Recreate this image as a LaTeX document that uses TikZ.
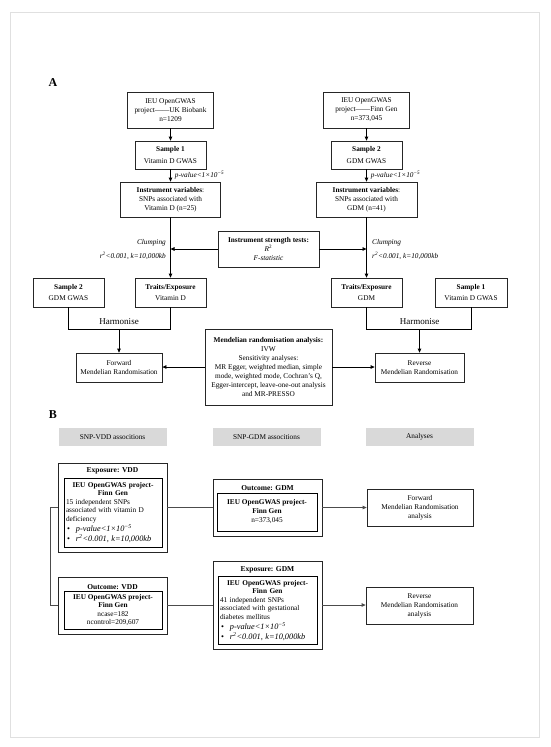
\documentclass[tikz,border=0pt]{standalone}
\usepackage{fontspec}
\setmainfont{Liberation Serif}
\usetikzlibrary{arrows.meta}
\begin{document}
\begin{tikzpicture}[x=1pt,y=-1pt,
  every node/.style={font=\fontsize{7.3}{9}\selectfont, inner sep=1pt},
  box/.style={draw=black!85, line width=0.8pt, align=center},
  inbox/.style={draw=black, line width=1pt, align=center},
  hdr/.style={fill=black!15, minimum width=108, minimum height=18},
  ttl/.style={font=\fontsize{7.5}{9}\selectfont\bfseries},
  big/.style={font=\fontsize{12}{14}\selectfont\bfseries},
  arr/.style={-{Triangle[length=4pt,width=3.6pt]}, line width=0.8pt},
  ln/.style={line width=0.8pt},
  lnb/.style={line width=0.8pt, draw=black!70},
  arrb/.style={arr, draw=black!70},
  lab/.style={font=\fontsize{7.3}{9}\selectfont\itshape, inner sep=0pt},
  harm/.style={font=\fontsize{9}{11}\selectfont},
  tight/.style={font=\fontsize{7.3}{8.4}\selectfont},
]
\newcommand{\bulf}{\fontsize{8.3}{10.2}\selectfont}
\useasboundingbox (0,0) rectangle (550,747);
\draw[black!12, line width=0.8pt] (10,12) rectangle (539,737);

% ---------- Part A ----------
\node[big] (labA) at (53,83) {A};
\node[box, minimum width=86, minimum height=36] (ukb) at (170.5,110) {IEU OpenGWAS\\project——UK Biobank\\n=1209};
\node[box, minimum width=86, minimum height=36] (fin) at (366.5,110) {IEU OpenGWAS\\project——Finn Gen\\n=373,045};
\node[box, minimum width=71, minimum height=28] (s1) at (170.5,155) {\textbf{Sample 1}\\[2.5pt]Vitamin D GWAS};
\node[box, minimum width=71, minimum height=28] (s2) at (366.5,155) {\textbf{Sample 2}\\[2.5pt]GDM GWAS};
\node[box, minimum width=100, minimum height=35] (iv1) at (170.5,199.5) {\textbf{Instrument variables}:\\SNPs associated with\\Vitamin D (n=25)};
\node[box, minimum width=101, minimum height=35] (iv2) at (366.5,199.5) {\textbf{Instrument variables}:\\SNPs associated with\\GDM (n=41)};
\node[box, minimum width=101, minimum height=36] (ist) at (268.5,249) {\textbf{Instrument strength tests:}\\\textit{R}\textsuperscript{2}\\\textit{F-statistic}};
\node[box, minimum width=71, minimum height=29] (tr1) at (170.5,292.5) {\textbf{Traits/Exposure}\\[2.5pt]Vitamin D};
\node[box, minimum width=71, minimum height=29] (sa2) at (68.5,292.5) {\textbf{Sample 2}\\[2.5pt]GDM GWAS};
\node[box, minimum width=71, minimum height=29] (tr2) at (366.5,292.5) {\textbf{Traits/Exposure}\\[2.5pt]GDM};
\node[box, minimum width=72, minimum height=29] (sa1) at (471,292.5) {\textbf{Sample 1}\\[2.5pt]Vitamin D GWAS};
\node[box, minimum width=86, minimum height=29] (fwd) at (119,367.5) {Forward\\Mendelian Randomisation};
\node[box, minimum width=89, minimum height=29] (rev) at (419.5,367.5) {Reverse\\Mendelian Randomisation};
\node[box, minimum width=127, minimum height=76] (mr) at (268.5,367) {\textbf{Mendelian randomisation analysis:}\\IVW\\Sensitivity analyses:\\MR Egger, weighted median, simple\\mode, weighted mode, Cochran's Q,\\Egger-intercept, leave-one-out analysis\\and MR-PRESSO};

\draw[arr] (ukb) -- (s1);
\draw[arr] (fin) -- (s2);
\draw[arr] (s1) -- (iv1) node[lab, midway, anchor=west, xshift=4pt] (pv1) {p-value<1×10\textsuperscript{−5}};
\draw[arr] (s2) -- (iv2) node[lab, midway, anchor=west, xshift=4pt] (pv2) {p-value<1×10\textsuperscript{−5}};
\draw[arr] (iv1) -- (tr1);
\draw[arr] (iv2) -- (tr2);
\draw[arr] (ist.west) -- (ist.west -| tr1.north);
\draw[arr] (ist.east) -- (ist.east -| tr2.north);
\node[lab, anchor=east] (cl1) at (166,243) {Clumping};
\node[lab, anchor=east] (rk1) at (166,256) {r\textsuperscript{2}<0.001, k=10,000kb};
\node[lab, anchor=west] (cl2) at (372,243) {Clumping};
\node[lab, anchor=west] (rk2) at (372,256) {r\textsuperscript{2}<0.001, k=10,000kb};

\draw[ln] (sa2.south) -- ++(0,22) -| (tr1.south);
\coordinate (hm1) at (119,329);
\draw[arr] (hm1) -- (fwd.north);
\node[harm] (harm1) at (119,321.5) {Harmonise};
\draw[ln] (tr2.south) -- ++(0,22) -| (sa1.south);
\coordinate (hm2) at (419.5,329);
\draw[arr] (hm2) -- (rev.north);
\node[harm] (harm2) at (419.5,321.5) {Harmonise};
\draw[arr] (mr.west) -- (mr.west -| fwd.east);
\draw[arr] (mr.east) -- (mr.east -| rev.west);

% ---------- Part B ----------
\node[big] (labB) at (53,415) {B};
\node[hdr] (h1) at (112.5,437) {SNP-VDD associtions};
\node[hdr] (h2) at (266.5,437) {SNP-GDM associtions};
\node[hdr] (h3) at (419.5,437) {Analyses};

% Exposure VDD
\node[box, minimum width=109, minimum height=89] (expvdd) at (112.5,507.5) {};
\node[ttl] (expvddt) at (112.5,471) {Exposure: VDD};
\node[inbox, tight, inner sep=0.5pt, minimum width=98, minimum height=69, text width=94, align=left] (expvddi) at (113,512.5)
 {{\centering\textbf{IEU OpenGWAS project-}\\\textbf{Finn Gen}\par}
  15 independent SNPs\\associated with vitamin D\\deficiency\par
  {\bulf\hspace*{1pt}\textbullet\hspace{6pt}\textit{p-value<1×10\textsuperscript{−5}}\\
   \hspace*{1pt}\textbullet\hspace{6pt}\textit{r\textsuperscript{2}<0.001, k=10,000kb}\par}};

% Outcome GDM
\node[box, minimum width=109, minimum height=57] (outgdm) at (267.5,507.5) {};
\node[ttl] (outgdmt) at (267.5,488) {Outcome: GDM};
\node[inbox, minimum width=100, minimum height=38] (outgdmi) at (267,512)
 {\textbf{IEU OpenGWAS project-}\\\textbf{Finn Gen}\\n=373,045};

% Outcome VDD
\node[box, minimum width=109, minimum height=57] (outvdd) at (112.5,605.5) {};
\node[ttl] (outvddt) at (112.5,587) {Outcome: VDD};
\node[inbox, tight, minimum width=98, minimum height=38] (outvddi) at (113,610)
 {\textbf{IEU OpenGWAS project-}\\\textbf{Finn Gen}\\ncase=182\\ncontrol=209,607};

% Exposure GDM
\node[box, minimum width=109, minimum height=88] (expgdm) at (267.5,605) {};
\node[ttl] (expgdmt) at (267.5,570) {Exposure: GDM};
\node[inbox, tight, inner sep=0.5pt, minimum width=99, minimum height=68, text width=95, align=left] (expgdmi) at (267.5,610.5)
 {{\centering\textbf{IEU OpenGWAS project-}\\\textbf{Finn Gen}\par}
  41 independent SNPs\\associated with gestational\\diabetes mellitus\par
  {\bulf\hspace*{1pt}\textbullet\hspace{6pt}\textit{p-value<1×10\textsuperscript{−5}}\\
   \hspace*{1pt}\textbullet\hspace{6pt}\textit{r\textsuperscript{2}<0.001, k=10,000kb}\par}};

% Analyses
\node[box, minimum width=106, minimum height=37] (fwdb) at (420,507.5) {Forward\\Mendelian Randomisation\\analysis};
\node[box, minimum width=107, minimum height=37] (revb) at (419.5,605.5) {Reverse\\Mendelian Randomisation\\analysis};

\draw[lnb] (expvdd.east) -- (expvdd.east -| outgdm.west);
\draw[arrb] (outgdm.east) -- (outgdm.east -| fwdb.west);
\draw[lnb] (expvdd.west) -- ++(-7,0) |- (outvdd.west);
\draw[lnb] (outvdd.east) -- (outvdd.east -| expgdm.west);
\draw[arrb] (expgdm.east) -- (expgdm.east -| revb.west);
\end{tikzpicture}
\end{document}
